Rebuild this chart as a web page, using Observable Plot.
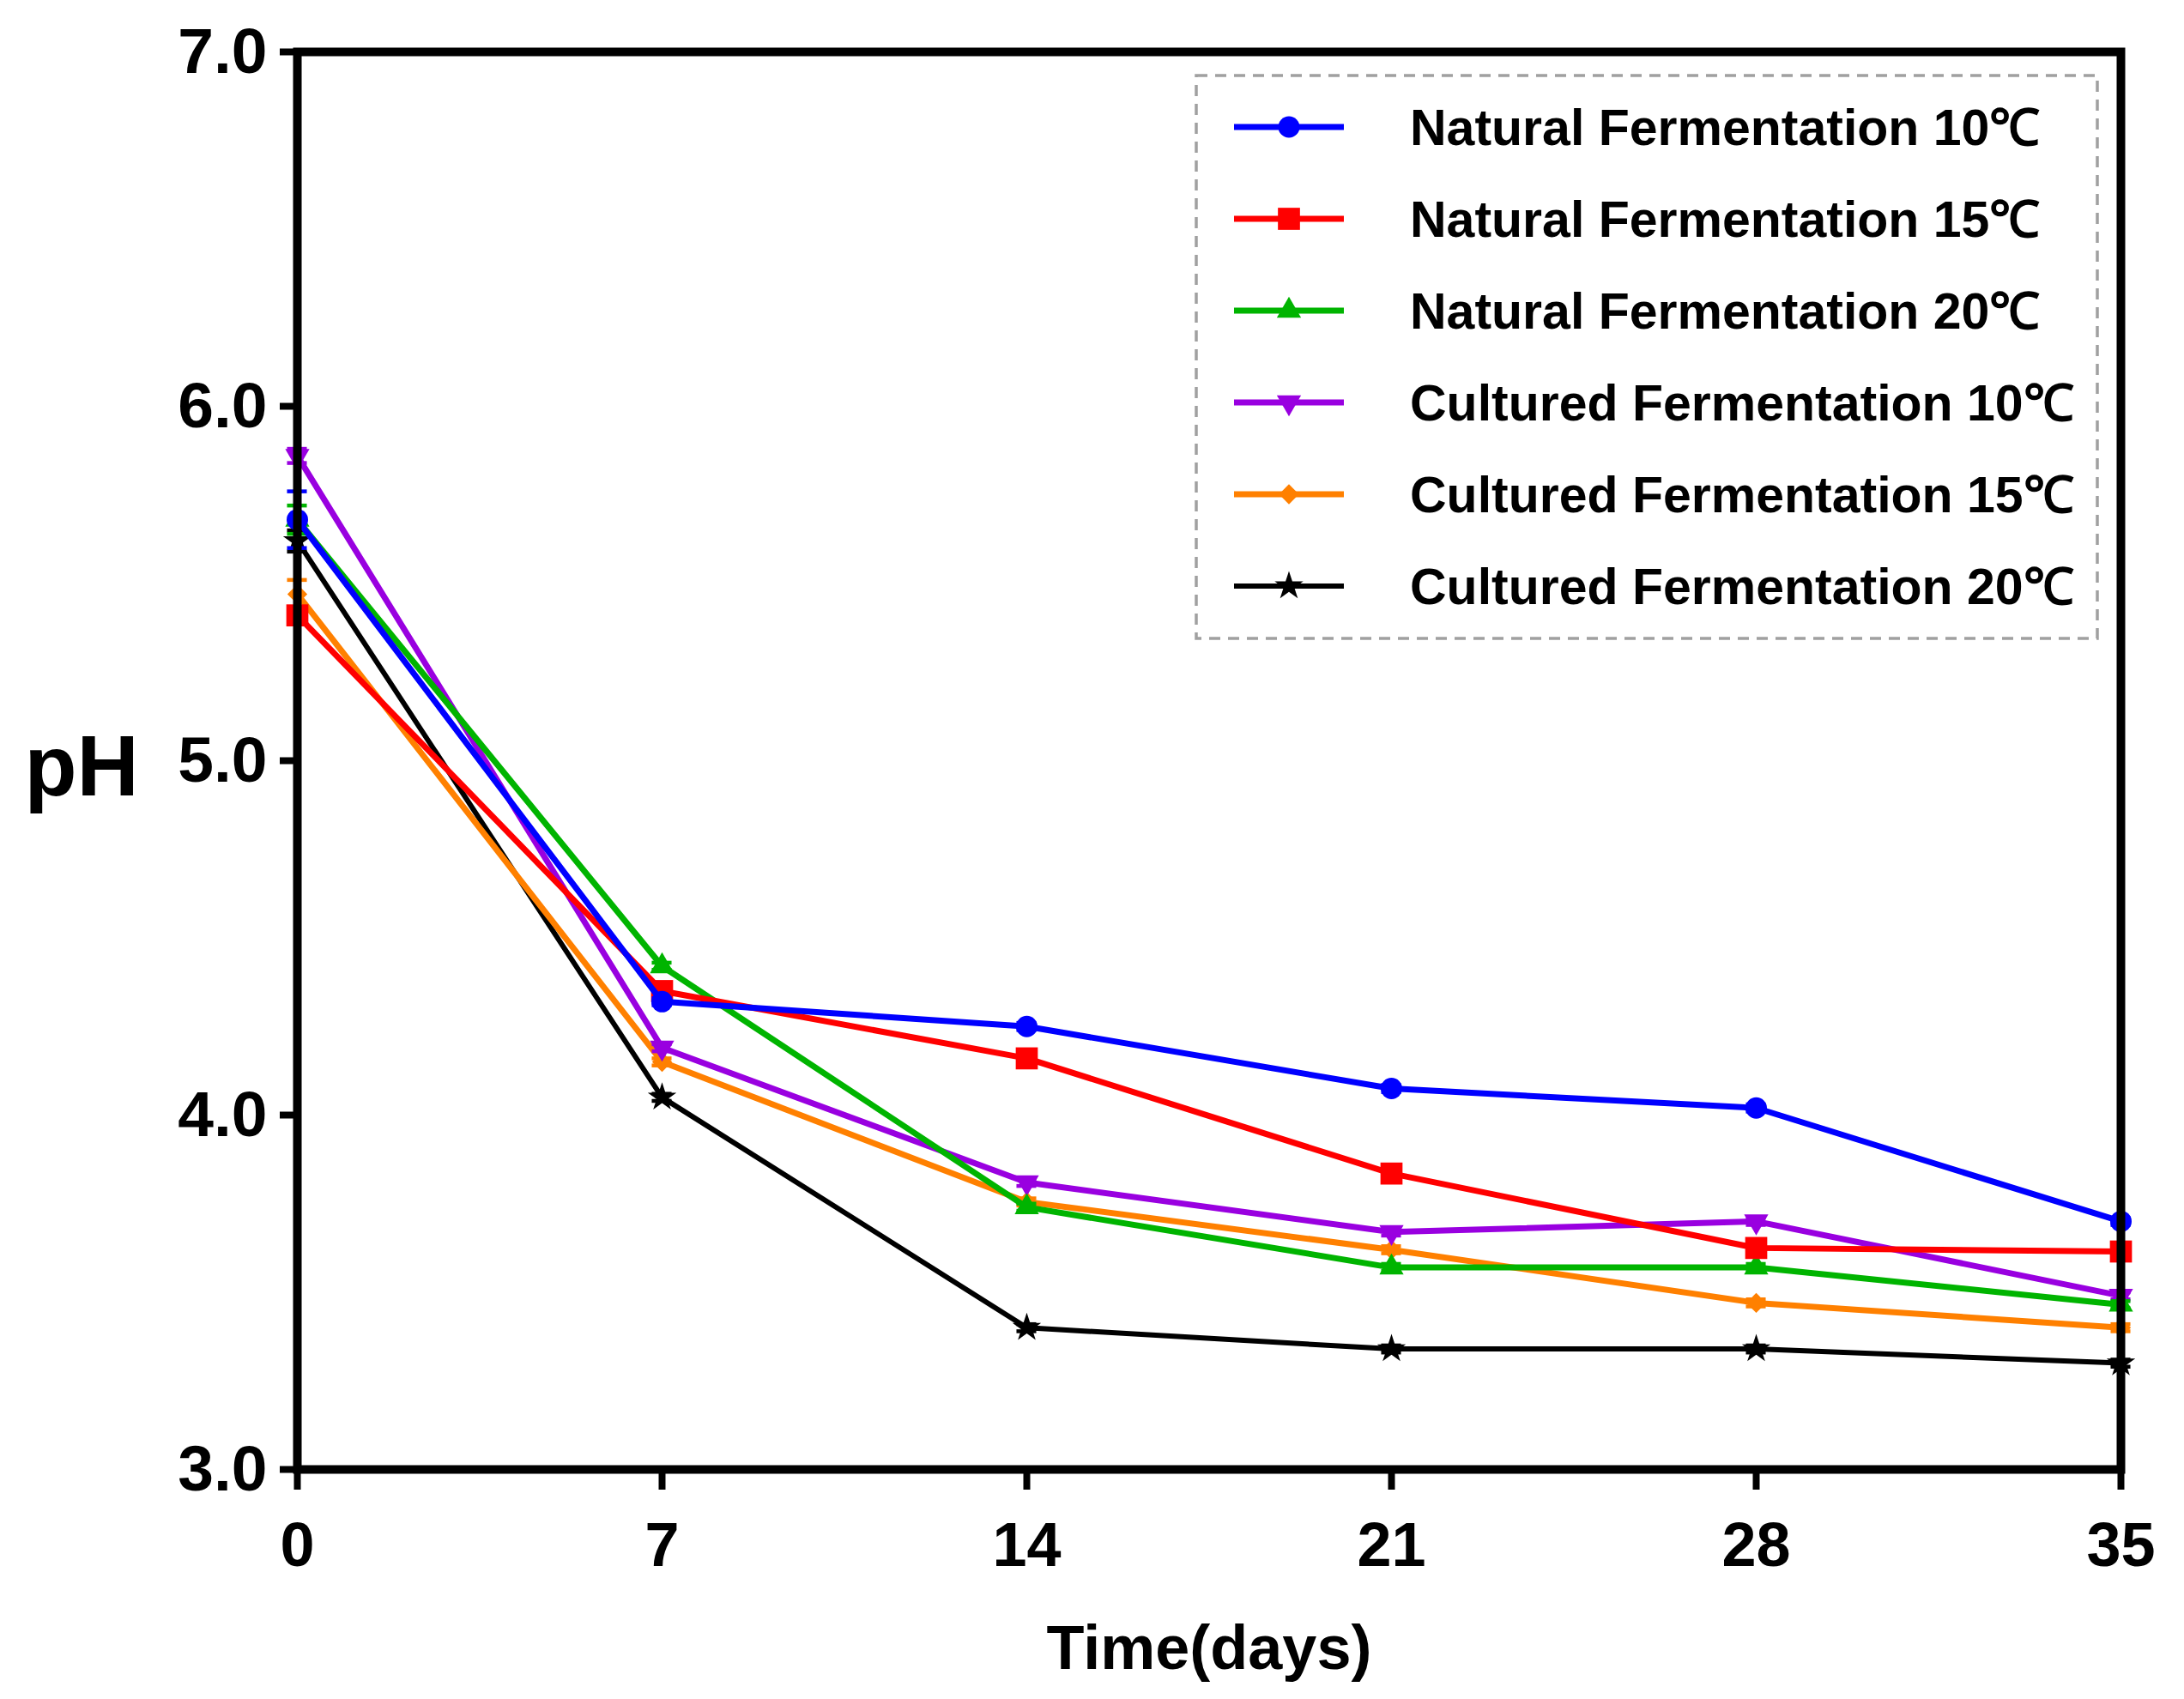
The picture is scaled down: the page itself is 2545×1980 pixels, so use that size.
<!DOCTYPE html>
<html><head><meta charset="utf-8">
<script src="https://cdn.jsdelivr.net/npm/d3@7"></script>
<script src="https://cdn.jsdelivr.net/npm/@observablehq/plot@0.6"></script>
<style>
body{margin:0;background:#fff}
#chart{width:2545px;height:1980px}
</style>
</head><body><div id="chart"></div>
<script>
// ---- data ----
const days = [0, 7, 14, 21, 28, 35];
const yTicks = [3, 4, 5, 6, 7];
const seriesNames = [
  "Natural Fermentation 10\u2103",
  "Natural Fermentation 15\u2103",
  "Natural Fermentation 20\u2103",
  "Cultured Fermentation 10\u2103",
  "Cultured Fermentation 15\u2103",
  "Cultured Fermentation 20\u2103"
];
const natural10 = [5.68, 4.32, 4.25, 4.075, 4.02, 3.70];
const natural15 = [5.41, 4.35, 4.16, 3.835, 3.625, 3.615];
const natural20 = [5.68, 4.42, 3.74, 3.57, 3.57, 3.465];
const cultured10 = [5.86, 4.19, 3.81, 3.67, 3.70, 3.49];
const cultured15 = [5.47, 4.15, 3.755, 3.62, 3.47, 3.40];
const cultured20 = [5.62, 4.05, 3.40, 3.34, 3.34, 3.30];
const err10n = [0.08, 0.01, 0.01, 0.01, 0.01, 0.01];
const err15n = [0.02, 0.01, 0.01, 0.01, 0.01, 0.01];
const err20n = [0.04, 0.01, 0.01, 0.01, 0.01, 0.01];
const err10c = [0.02, 0.01, 0.01, 0.01, 0.01, 0.01];
const err15c = [0.04, 0.01, 0.01, 0.01, 0.01, 0.01];
const err20c = [0.03, 0.01, 0.01, 0.01, 0.01, 0.01];

const seriesValues = [natural10, natural15, natural20, cultured10, cultured15, cultured20];
const seriesErrors = [err10n, err15n, err20n, err10c, err15c, err20c];
const colors = ["#0000ff", "#ff0000", "#00b400", "#9900e0", "#ff8000", "#000000"];

// inverted triangle symbol
const sqrt3 = Math.sqrt(3);
const triangleDown = {
  draw(context, size) {
    const y = -Math.sqrt(size / (sqrt3 * 3));
    context.moveTo(0, -y * 2);
    context.lineTo(-sqrt3 * y, y);
    context.lineTo(sqrt3 * y, y);
    context.closePath();
  }
};
const symbols = ["circle", "square", "triangle", triangleDown, "diamond2", "star"];
const d3symbols = [d3.symbolCircle, d3.symbolSquare, d3.symbolTriangle, triangleDown, d3.symbolDiamond2, d3.symbolStar];
const radii = [12.5, 14.5, 10.5, 10.5, 10.5, 10.5];
const lineWidths = [7, 7, 7, 7, 7, 6];

const tables = seriesValues.map((vals, i) =>
  days.map((d, j) => ({day: d, ph: vals[j], err: seriesErrors[i][j], series: seriesNames[i]}))
);

const font = "'Liberation Sans', Arial, Helvetica, sans-serif";

// draw order: last series first so first series ends on top
const seriesMarks = [];
for (let i = seriesNames.length - 1; i >= 0; i--) {
  const t = tables[i];
  seriesMarks.push(
    Plot.ruleX(t, {x: "day", y1: d => d.ph - d.err, y2: d => d.ph + d.err, stroke: colors[i], strokeWidth: 4.5}),
    Plot.ruleY(t, {y: d => d.ph + d.err, x1: d => d.day - 0.19, x2: d => d.day + 0.19, stroke: colors[i], strokeWidth: 4.5}),
    Plot.ruleY(t, {y: d => d.ph - d.err, x1: d => d.day - 0.19, x2: d => d.day + 0.19, stroke: colors[i], strokeWidth: 4.5}),
    Plot.line(t, {x: "day", y: "ph", stroke: colors[i], strokeWidth: lineWidths[i], strokeLinejoin: "round"}),
    Plot.dot(t, {x: "day", y: "ph", fill: colors[i], stroke: "none", r: radii[i], symbol: symbols[i]})
  );
}

const plot = Plot.plot({
  width: 2545,
  height: 1980,
  marginTop: 60,
  marginRight: 74,
  marginBottom: 268,
  marginLeft: 346,
  style: {fontFamily: font, fontWeight: "bold", color: "#000", background: "#fff", overflow: "visible"},
  x: {domain: [0, 35], label: null},
  y: {domain: [3, 7], label: null},
  marks: [
    Plot.axisX({ticks: days, tickSize: 24, tickPadding: 37, fontSize: 72, fontWeight: "bold", strokeWidth: 8, label: null, tickFormat: d => String(d)}),
    Plot.axisY({ticks: yTicks, tickSize: 20, tickPadding: 15, fontSize: 75, fontWeight: "bold", strokeWidth: 8, label: null, tickFormat: d => d.toFixed(1)}),
    ...seriesMarks,
    Plot.frame({stroke: "#000", strokeWidth: 10}),
    Plot.text(["pH"], {text: d => d, frameAnchor: "left", dx: -318, dy: 8, textAnchor: "start", fontSize: 100, fontWeight: "bold", fill: "#000"}),
    Plot.text(["Time(days)"], {text: d => d, frameAnchor: "bottom", lineAnchor: "top", dy: 181, fontSize: 72, fontWeight: "bold", fill: "#000"})
  ]
});

// ---- legend ----
const svg = d3.select(plot);
const lg = svg.append("g").attr("font-family", font).attr("font-weight", "bold").attr("text-anchor", "start");
lg.append("rect")
  .attr("x", 1394).attr("y", 88).attr("width", 1050).attr("height", 656)
  .attr("fill", "none").attr("stroke", "#a0a0a0").attr("stroke-width", 3.5)
  .attr("stroke-dasharray", "13,9");
seriesNames.forEach((name, i) => {
  const cy = 148 + i * 107;
  const row = lg.append("g").attr("transform", `translate(0,${cy})`);
  row.append("line").attr("x1", 1438).attr("x2", 1566).attr("y1", 0).attr("y2", 0)
    .attr("stroke", colors[i]).attr("stroke-width", lineWidths[i]);
  row.append("path").attr("transform", "translate(1502,0)")
    .attr("d", d3.symbol(d3symbols[i], radii[i] * radii[i] * Math.PI)())
    .attr("fill", colors[i]);
  row.append("text").attr("x", 1643).attr("y", 0).attr("dy", "0.36em")
    .attr("text-anchor", "start")
    .attr("font-size", 59).attr("fill", "#000").text(name);
});

document.getElementById("chart").appendChild(plot);
</script>
</body></html>
